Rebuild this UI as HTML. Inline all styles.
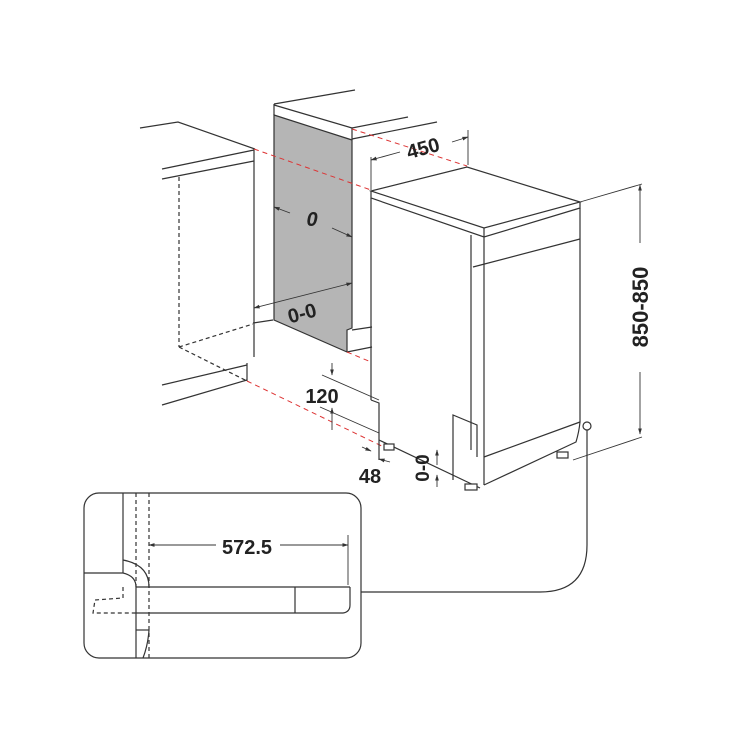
<!DOCTYPE html>
<html><head><meta charset="utf-8"><style>body{margin:0;background:#fff}svg{display:block}text{font-family:"Liberation Sans",sans-serif;font-weight:bold;fill:#222}</style></head><body>
<svg width="750" height="750" viewBox="0 0 750 750" xmlns="http://www.w3.org/2000/svg">
<defs><marker id="a" viewBox="0 0 10 10" refX="9" refY="5" markerWidth="7" markerHeight="7" orient="auto-start-reverse"><path d="M0,2L10,5L0,8z" fill="#333"/></marker></defs>
<g fill="none" stroke="#333" stroke-width="1.2">
<!-- left cabinet -->
<polyline points="140,128 178,122 255,149"/>
<line x1="162" y1="169" x2="254" y2="150"/>
<line x1="162" y1="179" x2="254" y2="161"/>
<line x1="254" y1="149" x2="254" y2="357"/>
<line x1="162" y1="385" x2="247" y2="365"/>
<line x1="162" y1="405" x2="247" y2="380"/>
<line x1="247" y1="363" x2="247" y2="381"/>
<line x1="253" y1="323" x2="273" y2="320"/>
<g stroke-dasharray="4,3"><line x1="179" y1="177" x2="179" y2="347"/><line x1="179" y1="347" x2="247" y2="381"/><line x1="179" y1="347" x2="253" y2="324"/></g>
<!-- tall unit -->
<polygon points="274,115 352,140 352,328 347,330 347,352 274,320" fill="#b5b5b5"/>
<line x1="274" y1="104" x2="355" y2="90"/>
<polyline points="274,104 274,115"/>
<polyline points="274,105 352,128 352,140"/>
<line x1="352" y1="128" x2="408" y2="117"/>
<line x1="352" y1="139" x2="437" y2="122"/>
<line x1="352" y1="330" x2="372" y2="327"/>
<line x1="347" y1="352" x2="372" y2="347"/>
<!-- red dashed -->
<g stroke="#d33" stroke-dasharray="5,4" stroke-width="1">
<line x1="254" y1="149" x2="371" y2="190"/><line x1="352" y1="129" x2="467" y2="166"/>
<line x1="347" y1="352" x2="371" y2="362"/><line x1="247" y1="381" x2="390" y2="450"/>
</g>
<!-- dishwasher -->
<polygon points="371,191 467,167 580,202 484,228" fill="#fff"/>
<polyline points="371,191 371,198 484,237 580,208 580,202"/>
<line x1="484" y1="228" x2="484" y2="237"/>
<line x1="371" y1="198" x2="371" y2="400"/>
<polyline points="371,400 379,403 379,460"/>
<line x1="484" y1="237" x2="484" y2="485"/>
<line x1="580" y1="208" x2="580" y2="422"/>
<line x1="471" y1="235" x2="471" y2="450"/>
<line x1="473" y1="267" x2="580" y2="239"/>
<line x1="484" y1="457" x2="580" y2="422"/>
<path d="M484,485 L576,442 Q579,432 580,422"/>
<polyline points="453,480 453,415 477,425 477,457"/>
<line x1="379" y1="440" x2="480" y2="488"/>
<rect x="384" y="444" width="10" height="6" fill="#fff"/>
<rect x="465" y="484" width="12" height="6" fill="#fff"/>
<rect x="557" y="452" width="11" height="6" fill="#fff"/>
<!-- dims -->
<g stroke-width="0.9">
<line x1="371" y1="157" x2="371" y2="190"/><line x1="468" y1="130" x2="468" y2="165"/>
<line x1="400" y1="152" x2="371" y2="160" marker-end="url(#a)"/>
<line x1="452" y1="142" x2="468" y2="137" marker-end="url(#a)"/>
<line x1="290" y1="213" x2="274" y2="207" marker-end="url(#a)"/>
<line x1="332" y1="228" x2="352" y2="237" marker-end="url(#a)"/>
<line x1="254" y1="308" x2="352" y2="283" marker-start="url(#a)" marker-end="url(#a)"/>
<line x1="322" y1="375" x2="379" y2="400"/><line x1="320" y1="407" x2="379" y2="433"/>
<line x1="332" y1="363" x2="332" y2="375" marker-end="url(#a)"/>
<line x1="332" y1="430" x2="332" y2="408" marker-end="url(#a)"/>
<line x1="362" y1="447" x2="371" y2="451" marker-end="url(#a)"/>
<line x1="390" y1="462" x2="379" y2="459" marker-end="url(#a)"/>
<line x1="437" y1="450" x2="437" y2="465" marker-start="url(#a)"/>
<line x1="437" y1="475" x2="437" y2="487" marker-start="url(#a)"/>
<line x1="580" y1="202" x2="642" y2="184"/><line x1="573" y1="460" x2="642" y2="437"/>
<line x1="640" y1="243" x2="640" y2="185" marker-end="url(#a)"/>
<line x1="640" y1="372" x2="640" y2="434" marker-end="url(#a)"/>
</g>
<circle cx="587" cy="426" r="4" fill="#fff"/>
<path d="M587,430 L587,545 Q587,592 540,592 L361,592"/>
<!-- inset -->
<rect x="84" y="493" width="277" height="165" rx="15" fill="#fff"/>
<line x1="123" y1="493" x2="123" y2="573"/>
<g stroke-dasharray="4,3"><line x1="136" y1="493" x2="136" y2="587"/><line x1="149" y1="493" x2="149" y2="658"/>
<polyline points="123,587 123,598 95,600 93,613 136,613"/></g>
<path d="M123,560 Q149,565 149,587"/>
<path d="M84,573 L123,573 Q136,576 136,587 L136,658"/>
<line x1="136" y1="587" x2="350" y2="587"/>
<path d="M136,613 L343,613 Q350,612 350,605 L350,587"/>
<line x1="295" y1="587" x2="295" y2="613"/>
<line x1="136" y1="630" x2="149" y2="630"/>
<path d="M149,630 Q148,645 143,658"/>
<line x1="348" y1="535" x2="348" y2="585" stroke-width="0.9"/>
<line x1="149" y1="545" x2="348" y2="545" stroke-width="0.9" marker-start="url(#a)" marker-end="url(#a)"/>
</g>
<rect x="216" y="535" width="64" height="20" fill="#fff"/>
<text x="247" y="554" font-size="20" text-anchor="middle">572.5</text>
<text x="423" y="155" font-size="20" text-anchor="middle" transform="rotate(-15 423 148)">450</text>
<text x="312" y="226" font-size="20" text-anchor="middle" font-style="italic">0</text>
<text x="302" y="320" font-size="20" text-anchor="middle" transform="rotate(-15 302 313)">0-0</text>
<text x="322" y="403" font-size="20" text-anchor="middle">120</text>
<text x="370" y="483" font-size="20" text-anchor="middle">48</text>
<text x="422" y="475" font-size="19" text-anchor="middle" transform="rotate(-90 422 468)">0-0</text>
<text x="641" y="314" font-size="22" text-anchor="middle" transform="rotate(-90 641 307)">850-850</text>
</svg>
</body></html>
